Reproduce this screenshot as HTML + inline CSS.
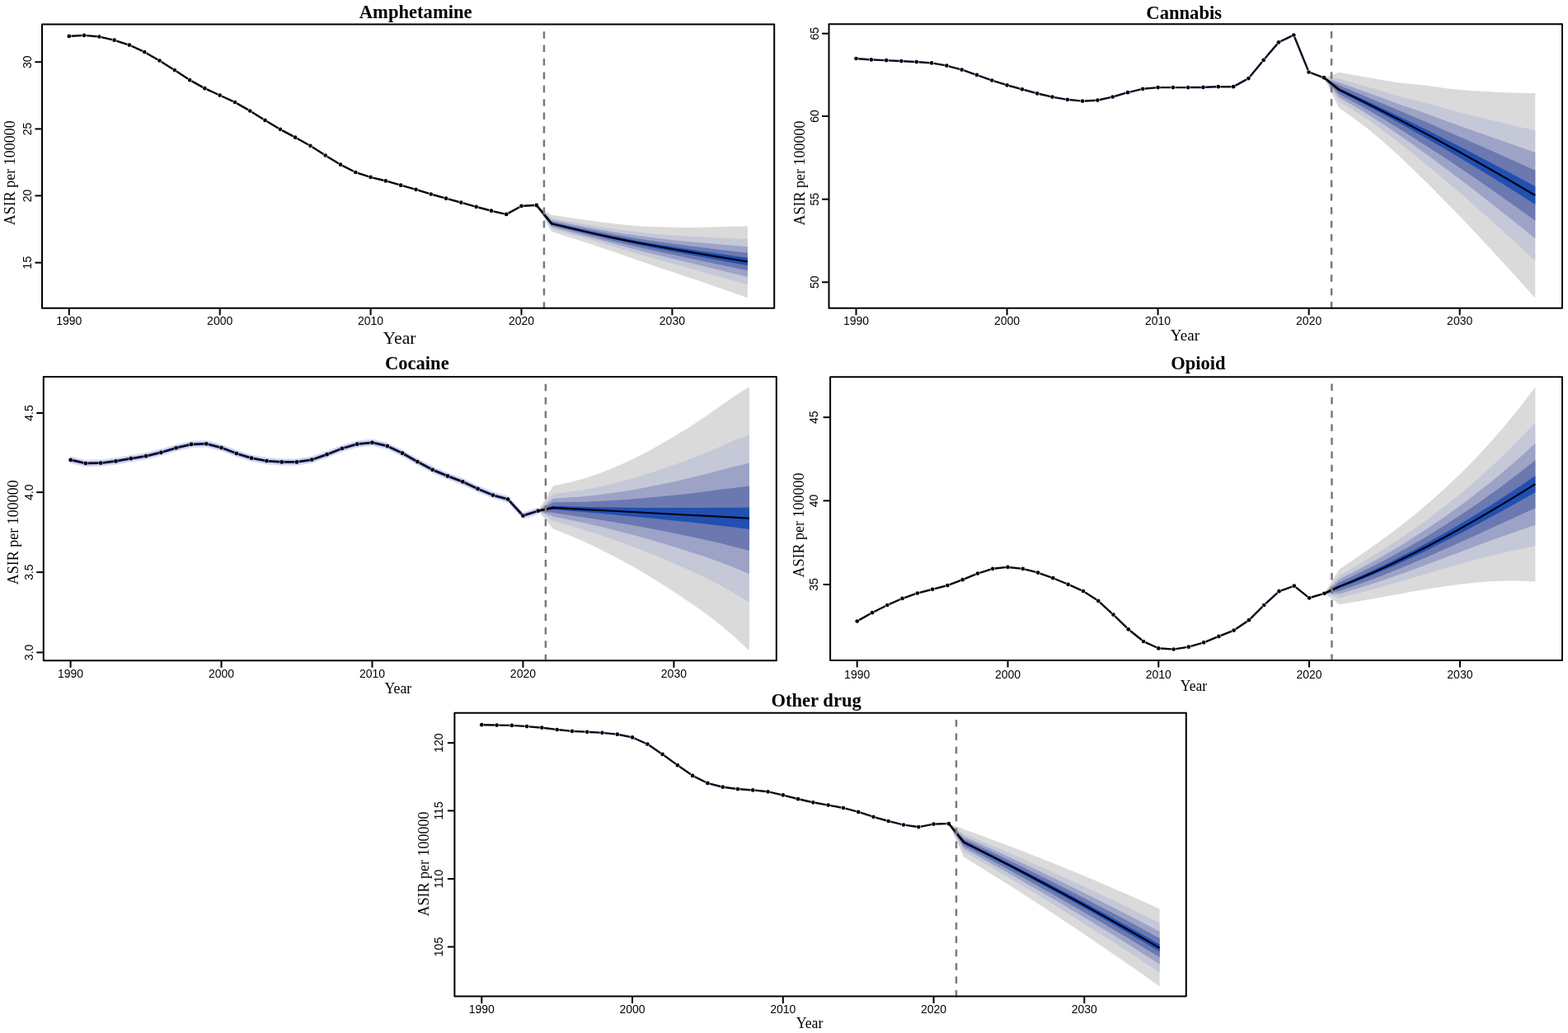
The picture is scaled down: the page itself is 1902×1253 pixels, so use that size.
<!DOCTYPE html>
<html><head><meta charset="utf-8"><title>ASIR projections</title>
<style>
html,body{margin:0;padding:0;background:#fff;}
svg{display:block;}
.tk{font-family:"Liberation Sans",Arial,sans-serif;font-size:14px;fill:#000;}
.ti{font-family:"Liberation Serif","Times New Roman",serif;font-weight:bold;fill:#000;}
.lb{font-family:"Liberation Serif","Times New Roman",serif;fill:#000;}
</style></head>
<body>
<svg width="1902" height="1253" viewBox="0 0 1902 1253">
<rect width="1902" height="1253" fill="#fff"/>
<polygon points="650.79,248.9 669.08,260.8 687.37,263.53 705.66,266.19 723.95,268.7 742.24,270.98 760.53,272.92 778.82,274.4 797.11,275.34 815.4,275.8 833.69,275.9 851.98,275.73 870.27,275.36 888.56,274.86 906.85,274.3 906.85,361.3 888.56,354.86 870.27,348.46 851.98,342.12 833.69,335.9 815.4,329.79 797.11,323.7 778.82,317.5 760.53,311.11 742.24,304.67 723.95,298.4 705.66,292.43 687.37,286.71 669.08,281.1" fill="#dadada"/>
<polygon points="650.79,248.9 669.08,264.6 687.37,267.94 705.66,271.2 723.95,274.32 742.24,277.22 760.53,279.82 778.82,282.06 797.11,283.9 815.4,285.38 833.69,286.59 851.98,287.62 870.27,288.5 888.56,289.29 906.85,290.03 906.85,345.28 888.56,340.09 870.27,334.91 851.98,329.78 833.69,324.69 815.4,319.67 797.11,314.61 778.82,309.43 760.53,304.07 742.24,298.61 723.95,293.18 705.66,287.87 687.37,282.65 669.08,277.49" fill="#c5c8d7"/>
<polygon points="650.79,248.9 669.08,266.83 687.37,270.53 705.66,274.16 723.95,277.63 742.24,280.89 760.53,283.89 778.82,286.58 797.11,288.94 815.4,291.02 833.69,292.89 851.98,294.62 870.27,296.24 888.56,297.79 906.85,299.3 906.85,335.84 888.56,331.38 870.27,326.94 851.98,322.5 833.69,318.09 815.4,313.7 797.11,309.25 778.82,304.68 760.53,299.93 742.24,295.04 723.95,290.11 705.66,285.18 687.37,280.26 669.08,275.36" fill="#9da3c7"/>
<polygon points="650.79,248.9 669.08,268.65 687.37,272.64 705.66,276.56 723.95,280.33 742.24,283.88 760.53,287.2 778.82,290.25 797.11,293.05 815.4,295.61 833.69,298.02 851.98,300.32 870.27,302.54 888.56,304.7 906.85,306.84 906.85,328.16 888.56,324.3 870.27,320.44 851.98,316.58 833.69,312.72 815.4,308.84 797.11,304.89 778.82,300.81 760.53,296.55 742.24,292.14 723.95,287.6 705.66,282.99 687.37,278.32 669.08,273.63" fill="#6c78b0"/>
<polygon points="650.79,248.9 669.08,270.11 687.37,274.33 705.66,278.48 723.95,282.48 742.24,286.28 760.53,289.85 778.82,293.19 797.11,296.33 815.4,299.29 833.69,302.12 851.98,304.88 870.27,307.57 888.56,310.23 906.85,312.87 906.85,322.01 888.56,318.63 870.27,315.25 851.98,311.85 833.69,308.42 815.4,304.96 797.11,301.41 778.82,297.72 760.53,293.86 742.24,289.81 723.95,285.6 705.66,281.24 687.37,276.76 669.08,272.24" fill="#2050b0"/>
<polyline points="650.79,248.9 669.08,271.2 687.37,275.6 705.66,279.92 723.95,284.1 742.24,288.07 760.53,291.83 778.82,295.4 797.11,298.79 815.4,302.04 833.69,305.2 851.98,308.3 870.27,311.35 888.56,314.38 906.85,317.4" fill="none" stroke="#02021a" stroke-width="2.2" stroke-linejoin="round"/>
<line x1="650.79" y1="248.9" x2="669.08" y2="271.2" stroke="#000" stroke-width="2.4" stroke-linecap="round"/>
<path d="M86.5 43.75L99.39 43.05M104.78 43.14L117.69 44.26M123.01 45.1L136.04 48.1M141.24 49.53L154.39 53.77M159.41 55.74L172.8 61.96M177.6 64.43L191.19 72.17M195.82 74.95L209.55 83.65M214.09 86.58L227.86 95.62M232.48 98.41L246.05 105.89M250.86 108.33L264.25 114.47M269.15 116.73L282.54 122.87M287.33 125.34L300.94 133.16M305.57 135.93L319.28 144.47M323.89 147.28L337.54 155.42M342.23 158.09L355.78 165.41M360.51 168.01L374.08 175.49M378.71 178.25L392.46 187.05M397.03 189.91L410.72 198.29M415.43 200.92L428.9 207.78M433.88 209.83L447.03 214.07M452.22 215.55L465.27 218.75M470.48 220.15L483.59 223.95M488.78 225.43L501.87 229.07M507.05 230.6L520.18 234.7M525.36 236.24L538.45 239.96M543.65 241.41L556.74 244.99M561.94 246.43L575.03 250.07M580.24 251.5L593.31 255M598.55 256.3L611.58 259.3M616.58 258.6L630.13 251.2M635.2 249.75L648.09 249.05" fill="none" stroke="#03030f" stroke-width="2.4"/>
<circle cx="83.8" cy="43.9" r="2.35"/>
<circle cx="102.09" cy="42.9" r="2.35"/>
<circle cx="120.38" cy="44.5" r="2.35"/>
<circle cx="138.67" cy="48.7" r="2.35"/>
<circle cx="156.96" cy="54.6" r="2.35"/>
<circle cx="175.25" cy="63.1" r="2.35"/>
<circle cx="193.54" cy="73.5" r="2.35"/>
<circle cx="211.83" cy="85.1" r="2.35"/>
<circle cx="230.12" cy="97.1" r="2.35"/>
<circle cx="248.41" cy="107.2" r="2.35"/>
<circle cx="266.7" cy="115.6" r="2.35"/>
<circle cx="284.99" cy="124" r="2.35"/>
<circle cx="303.28" cy="134.5" r="2.35"/>
<circle cx="321.57" cy="145.9" r="2.35"/>
<circle cx="339.86" cy="156.8" r="2.35"/>
<circle cx="358.15" cy="166.7" r="2.35"/>
<circle cx="376.44" cy="176.8" r="2.35"/>
<circle cx="394.73" cy="188.5" r="2.35"/>
<circle cx="413.02" cy="199.7" r="2.35"/>
<circle cx="431.31" cy="209" r="2.35"/>
<circle cx="449.6" cy="214.9" r="2.35"/>
<circle cx="467.89" cy="219.4" r="2.35"/>
<circle cx="486.18" cy="224.7" r="2.35"/>
<circle cx="504.47" cy="229.8" r="2.35"/>
<circle cx="522.76" cy="235.5" r="2.35"/>
<circle cx="541.05" cy="240.7" r="2.35"/>
<circle cx="559.34" cy="245.7" r="2.35"/>
<circle cx="577.63" cy="250.8" r="2.35"/>
<circle cx="595.92" cy="255.7" r="2.35"/>
<circle cx="614.21" cy="259.9" r="2.35"/>
<circle cx="632.5" cy="249.9" r="2.35"/>
<circle cx="650.79" cy="248.9" r="2.35"/>
<line x1="659.93" y1="374.7" x2="659.93" y2="29.6" stroke="#7a7a7a" stroke-width="2.5" stroke-dasharray="8.5 7.9"/>
<rect x="51" y="29.6" width="888.2" height="344.2" fill="none" stroke="#000" stroke-width="2" stroke-linejoin="round"/>
<line x1="83.8" y1="373.8" x2="83.8" y2="382.3" stroke="#000" stroke-width="2"/>
<text x="83.8" y="394.1" class="tk" text-anchor="middle">1990</text>
<line x1="266.7" y1="373.8" x2="266.7" y2="382.3" stroke="#000" stroke-width="2"/>
<text x="266.7" y="394.1" class="tk" text-anchor="middle">2000</text>
<line x1="449.6" y1="373.8" x2="449.6" y2="382.3" stroke="#000" stroke-width="2"/>
<text x="449.6" y="394.1" class="tk" text-anchor="middle">2010</text>
<line x1="632.5" y1="373.8" x2="632.5" y2="382.3" stroke="#000" stroke-width="2"/>
<text x="632.5" y="394.1" class="tk" text-anchor="middle">2020</text>
<line x1="815.4" y1="373.8" x2="815.4" y2="382.3" stroke="#000" stroke-width="2"/>
<text x="815.4" y="394.1" class="tk" text-anchor="middle">2030</text>
<line x1="42.5" y1="318.6" x2="51" y2="318.6" stroke="#000" stroke-width="2"/>
<text transform="translate(38.2,318.6) rotate(-90)" class="tk" text-anchor="middle">15</text>
<line x1="42.5" y1="237.4" x2="51" y2="237.4" stroke="#000" stroke-width="2"/>
<text transform="translate(38.2,237.4) rotate(-90)" class="tk" text-anchor="middle">20</text>
<line x1="42.5" y1="156.4" x2="51" y2="156.4" stroke="#000" stroke-width="2"/>
<text transform="translate(38.2,156.4) rotate(-90)" class="tk" text-anchor="middle">25</text>
<line x1="42.5" y1="75.2" x2="51" y2="75.2" stroke="#000" stroke-width="2"/>
<text transform="translate(38.2,75.2) rotate(-90)" class="tk" text-anchor="middle">30</text>
<text x="504.2" y="21.8" class="ti" style="font-size:22.6px" text-anchor="middle">Amphetamine</text>
<text transform="translate(484.5,416.8) scale(1,1)" class="lb" style="font-size:21.7px" text-anchor="middle">Year</text>
<text transform="translate(18.4,209.8) rotate(-90)" class="lb" style="font-size:18px" text-anchor="middle">ASIR per 100000</text>
<polygon points="1605.95,94.2 1624.26,87.7 1642.57,90.97 1660.87,94.16 1679.17,97.47 1697.48,100.4 1715.78,102.26 1734.09,104.19 1752.39,106.9 1770.7,109 1789.01,110.21 1807.31,111.27 1825.62,112.13 1843.92,112.69 1862.22,112.9 1862.22,361.6 1843.92,341.31 1825.62,321.12 1807.31,301.14 1789.01,281.47 1770.7,262.23 1752.39,243.44 1734.09,225.03 1715.78,207.01 1697.48,189.57 1679.17,172.96 1660.87,157.62 1642.57,143.85 1624.26,131" fill="#dadada"/>
<polygon points="1605.95,94.2 1624.26,95.39 1642.57,100.71 1660.87,106.04 1679.17,111.52 1697.48,116.8 1715.78,121.47 1734.09,126.23 1752.39,131.56 1770.7,136.55 1789.01,141.04 1807.31,145.49 1825.62,149.87 1843.92,154.13 1862.22,158.21 1862.22,316.14 1843.92,299.3 1825.62,282.58 1807.31,266.06 1789.01,249.79 1770.7,233.85 1752.39,218.26 1734.09,202.97 1715.78,187.98 1697.48,173.42 1679.17,159.45 1660.87,146.34 1642.57,134.29 1624.26,122.88" fill="#c5c8d7"/>
<polygon points="1605.95,94.2 1624.26,99.91 1642.57,106.45 1660.87,113.04 1679.17,119.79 1697.48,126.46 1715.78,132.78 1734.09,139.22 1752.39,146.08 1770.7,152.78 1789.01,159.2 1807.31,165.65 1825.62,172.1 1843.92,178.53 1862.22,184.9 1862.22,289.36 1843.92,274.55 1825.62,259.88 1807.31,245.39 1789.01,231.13 1770.7,217.14 1752.39,203.43 1734.09,189.97 1715.78,176.77 1697.48,163.91 1679.17,151.49 1660.87,139.7 1642.57,128.66 1624.26,118.1" fill="#9da3c7"/>
<polygon points="1605.95,94.2 1624.26,103.6 1642.57,111.12 1660.87,118.74 1679.17,126.52 1697.48,134.32 1715.78,141.99 1734.09,149.79 1752.39,157.9 1770.7,165.99 1789.01,173.98 1807.31,182.05 1825.62,190.2 1843.92,198.4 1862.22,206.63 1862.22,267.56 1843.92,254.41 1825.62,241.4 1807.31,228.57 1789.01,215.94 1770.7,203.53 1752.39,191.35 1734.09,179.39 1715.78,167.65 1697.48,156.17 1679.17,145.01 1660.87,134.29 1642.57,124.08 1624.26,114.2" fill="#6c78b0"/>
<polygon points="1605.95,94.2 1624.26,106.9 1642.57,115.31 1660.87,123.86 1679.17,132.56 1697.48,141.38 1715.78,150.25 1734.09,159.27 1752.39,168.51 1770.7,177.84 1789.01,187.24 1807.31,196.77 1825.62,206.43 1843.92,216.22 1862.22,226.12 1862.22,248 1843.92,236.34 1825.62,224.83 1807.31,213.48 1789.01,202.31 1770.7,191.32 1752.39,180.52 1734.09,169.9 1715.78,159.46 1697.48,149.22 1679.17,139.2 1660.87,129.44 1642.57,119.96 1624.26,110.71" fill="#2050b0"/>
<polyline points="1605.95,94.2 1624.26,108.75 1642.57,117.66 1660.87,126.72 1679.17,135.95 1697.48,145.33 1715.78,154.88 1734.09,164.58 1752.39,174.45 1770.7,184.48 1789.01,194.67 1807.31,205.02 1825.62,215.53 1843.92,226.21 1862.22,237.04" fill="none" stroke="#02021a" stroke-width="2.2" stroke-linejoin="round"/>
<line x1="1605.95" y1="94.2" x2="1624.26" y2="108.75" stroke="#000" stroke-width="2.4" stroke-linecap="round"/>
<path d="M1041.19 71.21L1054.11 72.19M1059.5 72.52L1072.41 73.08M1077.81 73.33L1090.72 73.97M1096.11 74.25L1109.02 74.95M1114.41 75.29L1127.33 76.21M1132.68 76.86L1145.67 79.14M1150.93 80.31L1164.03 83.89M1169.19 85.48L1182.39 90.02M1187.48 91.82L1200.71 96.58M1205.82 98.32L1218.98 102.48M1224.15 104.01L1237.25 107.59M1242.46 109.02L1255.56 112.68M1260.79 114L1273.83 117M1279.12 118.06L1292.11 120.34M1297.46 121.06L1310.39 122.34M1315.77 122.45L1328.68 121.75M1334.01 121.01L1347.05 118.09M1352.28 116.75L1365.4 112.95M1370.62 111.57L1383.67 108.43M1388.98 107.55L1401.91 106.35M1407.3 106.1L1420.2 106.1M1425.61 106.1L1438.51 106.1M1443.91 106.07L1456.82 105.93M1462.21 105.8L1475.12 105.3M1480.52 105.2L1493.42 105.2M1498.49 103.9L1512.07 96.4M1516.15 93.02L1531.02 74.98M1534.48 70.84L1549.29 53.36M1553.47 50.13L1566.91 43.67M1570.36 45L1586.63 85M1590.19 88.43L1603.42 93.27" fill="none" stroke="#0a0a24" stroke-width="2.4"/>
<circle cx="1038.5" cy="71" r="2.35"/>
<circle cx="1056.81" cy="72.4" r="2.35"/>
<circle cx="1075.11" cy="73.2" r="2.35"/>
<circle cx="1093.41" cy="74.1" r="2.35"/>
<circle cx="1111.72" cy="75.1" r="2.35"/>
<circle cx="1130.03" cy="76.4" r="2.35"/>
<circle cx="1148.33" cy="79.6" r="2.35"/>
<circle cx="1166.63" cy="84.6" r="2.35"/>
<circle cx="1184.94" cy="90.9" r="2.35"/>
<circle cx="1203.24" cy="97.5" r="2.35"/>
<circle cx="1221.55" cy="103.3" r="2.35"/>
<circle cx="1239.86" cy="108.3" r="2.35"/>
<circle cx="1258.16" cy="113.4" r="2.35"/>
<circle cx="1276.46" cy="117.6" r="2.35"/>
<circle cx="1294.77" cy="120.8" r="2.35"/>
<circle cx="1313.08" cy="122.6" r="2.35"/>
<circle cx="1331.38" cy="121.6" r="2.35"/>
<circle cx="1349.68" cy="117.5" r="2.35"/>
<circle cx="1367.99" cy="112.2" r="2.35"/>
<circle cx="1386.3" cy="107.8" r="2.35"/>
<circle cx="1404.6" cy="106.1" r="2.35"/>
<circle cx="1422.9" cy="106.1" r="2.35"/>
<circle cx="1441.21" cy="106.1" r="2.35"/>
<circle cx="1459.51" cy="105.9" r="2.35"/>
<circle cx="1477.82" cy="105.2" r="2.35"/>
<circle cx="1496.12" cy="105.2" r="2.35"/>
<circle cx="1514.43" cy="95.1" r="2.35"/>
<circle cx="1532.74" cy="72.9" r="2.35"/>
<circle cx="1551.04" cy="51.3" r="2.35"/>
<circle cx="1569.35" cy="42.5" r="2.35"/>
<circle cx="1587.65" cy="87.5" r="2.35"/>
<circle cx="1605.95" cy="94.2" r="2.35"/>
<line x1="1615.11" y1="374.6" x2="1615.11" y2="29.2" stroke="#7a7a7a" stroke-width="2.5" stroke-dasharray="8.5 7.9"/>
<rect x="1005.5" y="29.2" width="889.5" height="344.5" fill="none" stroke="#000" stroke-width="2" stroke-linejoin="round"/>
<line x1="1038.5" y1="373.7" x2="1038.5" y2="382.2" stroke="#000" stroke-width="2"/>
<text x="1038.5" y="394.3" class="tk" text-anchor="middle">1990</text>
<line x1="1221.55" y1="373.7" x2="1221.55" y2="382.2" stroke="#000" stroke-width="2"/>
<text x="1221.55" y="394.3" class="tk" text-anchor="middle">2000</text>
<line x1="1404.6" y1="373.7" x2="1404.6" y2="382.2" stroke="#000" stroke-width="2"/>
<text x="1404.6" y="394.3" class="tk" text-anchor="middle">2010</text>
<line x1="1587.65" y1="373.7" x2="1587.65" y2="382.2" stroke="#000" stroke-width="2"/>
<text x="1587.65" y="394.3" class="tk" text-anchor="middle">2020</text>
<line x1="1770.7" y1="373.7" x2="1770.7" y2="382.2" stroke="#000" stroke-width="2"/>
<text x="1770.7" y="394.3" class="tk" text-anchor="middle">2030</text>
<line x1="997" y1="342.3" x2="1005.5" y2="342.3" stroke="#000" stroke-width="2"/>
<text transform="translate(992.6,342.3) rotate(-90)" class="tk" text-anchor="middle">50</text>
<line x1="997" y1="241.7" x2="1005.5" y2="241.7" stroke="#000" stroke-width="2"/>
<text transform="translate(992.6,241.7) rotate(-90)" class="tk" text-anchor="middle">55</text>
<line x1="997" y1="140.9" x2="1005.5" y2="140.9" stroke="#000" stroke-width="2"/>
<text transform="translate(992.6,140.9) rotate(-90)" class="tk" text-anchor="middle">60</text>
<line x1="997" y1="40.7" x2="1005.5" y2="40.7" stroke="#000" stroke-width="2"/>
<text transform="translate(992.6,40.7) rotate(-90)" class="tk" text-anchor="middle">65</text>
<text x="1436.2" y="22.9" class="ti" style="font-size:22.6px" text-anchor="middle">Cannabis</text>
<text transform="translate(1437.4,412.7) scale(0.99,1)" class="lb" style="font-size:19.3px" text-anchor="middle">Year</text>
<text transform="translate(975.7,210) rotate(-90)" class="lb" style="font-size:18px" text-anchor="middle">ASIR per 100000</text>
<polygon points="652.75,619.7 671.04,589.2 689.34,585.38 707.63,580.78 725.93,574.81 744.22,567.57 762.52,559.32 780.81,550.15 799.11,540.16 817.4,529.54 835.7,518.39 853.99,506.42 872.29,493.51 890.58,480.71 908.88,468.9 908.88,789.5 890.58,772.31 872.29,756.77 853.99,742.82 835.7,729.96 817.4,717.74 799.11,705.89 780.81,694.65 762.52,684.29 744.22,674.57 725.93,665.25 707.63,656.58 689.34,648.79 671.04,641.5" fill="#dadada"/>
<polygon points="652.75,619.7 671.04,598.91 689.34,596.85 707.63,594.29 725.93,590.86 744.22,586.62 762.52,581.74 780.81,576.29 799.11,570.31 817.4,563.92 835.7,557.21 853.99,549.97 872.29,542.13 890.58,534.36 908.88,527.23 908.88,730.81 890.58,719.53 872.29,709.3 853.99,700.08 835.7,691.55 817.4,683.43 799.11,675.54 780.81,668.05 762.52,661.1 744.22,654.57 725.93,648.29 707.63,642.42 689.34,637.11 671.04,632.12" fill="#c5c8d7"/>
<polygon points="652.75,619.7 671.04,604.63 689.34,603.6 707.63,602.24 725.93,600.31 744.22,597.85 762.52,594.96 780.81,591.68 799.11,588.06 817.4,584.17 835.7,580.07 853.99,575.62 872.29,570.77 890.58,565.97 908.88,561.58 908.88,696.24 890.58,688.44 872.29,681.34 853.99,674.91 835.7,668.93 817.4,663.22 799.11,657.67 780.81,652.37 762.52,647.44 744.22,642.79 725.93,638.3 707.63,634.08 689.34,630.23 671.04,626.59" fill="#9da3c7"/>
<polygon points="652.75,619.7 671.04,609.28 689.34,609.1 707.63,608.72 725.93,608 744.22,606.98 762.52,605.71 780.81,604.21 799.11,602.51 817.4,600.66 835.7,598.68 853.99,596.49 872.29,594.08 890.58,591.69 908.88,589.55 908.88,668.1 890.58,663.13 872.29,658.58 853.99,654.41 835.7,650.51 817.4,646.77 799.11,643.12 780.81,639.61 762.52,636.33 744.22,633.2 725.93,630.16 707.63,627.29 689.34,624.63 671.04,622.1" fill="#6c78b0"/>
<polygon points="652.75,619.7 671.04,613.62 689.34,614.22 707.63,614.75 725.93,615.17 744.22,615.49 762.52,615.72 780.81,615.88 799.11,615.97 817.4,616.01 835.7,616.01 853.99,615.94 872.29,615.79 890.58,615.65 908.88,615.6 908.88,641.89 890.58,639.56 872.29,637.38 853.99,635.33 835.7,633.36 817.4,631.45 799.11,629.56 780.81,627.73 762.52,625.97 744.22,624.26 725.93,622.59 707.63,620.97 689.34,619.42 671.04,617.91" fill="#2050b0"/>
<polygon points="85.6,553.9 103.89,558 122.19,557.6 140.49,555.4 158.78,552.2 177.07,549.2 195.37,544.8 213.66,539.3 231.96,534.9 250.26,534.3 268.55,539.1 286.85,546 305.14,551.7 323.44,555.1 341.73,556.4 360.02,556.4 378.32,553.6 396.62,547.2 414.91,540 433.21,534.7 451.5,532.8 469.8,537.1 488.09,545.7 506.38,556.1 524.68,565.8 542.98,573.4 561.27,580.3 579.57,588.9 597.86,596.6 616.16,601.6 634.45,621.5 652.75,615.7 652.75,623.7 634.45,629.5 616.16,609.6 597.86,604.6 579.57,596.9 561.27,588.3 542.98,581.4 524.68,573.8 506.38,564.1 488.09,553.7 469.8,545.1 451.5,540.8 433.21,542.7 414.91,548 396.62,555.2 378.32,561.6 360.02,564.4 341.73,564.4 323.44,563.1 305.14,559.7 286.85,554 268.55,547.1 250.26,542.3 231.96,542.9 213.66,547.3 195.37,552.8 177.07,557.2 158.78,560.2 140.49,563.4 122.19,565.6 103.89,566 85.6,561.9" fill="#dcdff3" stroke="#dcdff3" stroke-width="0.6" stroke-linejoin="round"/>
<polygon points="85.6,555.42 103.89,559.52 122.19,559.12 140.49,556.92 158.78,553.72 177.07,550.72 195.37,546.32 213.66,540.82 231.96,536.42 250.26,535.82 268.55,540.62 286.85,547.52 305.14,553.22 323.44,556.62 341.73,557.92 360.02,557.92 378.32,555.12 396.62,548.72 414.91,541.52 433.21,536.22 451.5,534.32 469.8,538.62 488.09,547.22 506.38,557.62 524.68,567.32 542.98,574.92 561.27,581.82 579.57,590.42 597.86,598.12 616.16,603.12 634.45,623.02 652.75,617.22 652.75,622.18 634.45,627.98 616.16,608.08 597.86,603.08 579.57,595.38 561.27,586.78 542.98,579.88 524.68,572.28 506.38,562.58 488.09,552.18 469.8,543.58 451.5,539.28 433.21,541.18 414.91,546.48 396.62,553.68 378.32,560.08 360.02,562.88 341.73,562.88 323.44,561.58 305.14,558.18 286.85,552.48 268.55,545.58 250.26,540.78 231.96,541.38 213.66,545.78 195.37,551.28 177.07,555.68 158.78,558.68 140.49,561.88 122.19,564.08 103.89,564.48 85.6,560.38" fill="#c2c7ea" stroke="#c2c7ea" stroke-width="0.6" stroke-linejoin="round"/>
<polyline points="652.75,619.7 671.04,615.8 689.34,616.79 707.63,617.78 725.93,618.78 744.22,619.77 762.52,620.76 780.81,621.75 799.11,622.75 817.4,623.74 835.7,624.73 853.99,625.72 872.29,626.72 890.58,627.71 908.88,628.7" fill="none" stroke="#02021a" stroke-width="2.2" stroke-linejoin="round"/>
<line x1="652.75" y1="619.7" x2="671.04" y2="615.8" stroke="#000" stroke-width="2.4" stroke-linecap="round"/>
<path d="M88.23 558.49L101.26 561.41M106.59 561.94L119.49 561.66M124.87 561.28L137.8 559.72M143.14 558.93L156.12 556.67M161.44 555.76L174.41 553.64M179.7 552.57L192.74 549.43M197.96 548.02L211.08 544.08M216.29 542.67L229.33 539.53M234.66 538.81L247.56 538.39M252.87 538.99L265.94 542.41M271.08 544.05L284.32 549.05M289.42 550.8L302.56 554.9M307.79 556.19L320.78 558.61M326.13 559.29L339.04 560.21M344.43 560.4L357.32 560.4M362.69 559.99L375.65 558.01M380.87 556.71L394.07 552.09M399.13 550.21L412.4 544.99M417.5 543.25L430.61 539.45M435.89 538.42L448.81 537.08M454.13 537.42L467.17 540.48M472.24 542.25L485.65 548.55M490.44 551.03L504.04 558.77M508.77 561.36L522.29 568.54M527.17 570.84L540.48 576.36M545.5 578.35L558.74 583.35M563.71 585.45L577.12 591.75M582.05 593.95L595.37 599.55M600.46 601.31L613.55 604.89M617.98 607.59L632.62 623.51M637.02 624.68L650.17 620.52" fill="none" stroke="#0b0b36" stroke-width="2.8"/>
<circle cx="85.6" cy="557.9" r="2.35"/>
<circle cx="103.89" cy="562" r="2.35"/>
<circle cx="122.19" cy="561.6" r="2.35"/>
<circle cx="140.49" cy="559.4" r="2.35"/>
<circle cx="158.78" cy="556.2" r="2.35"/>
<circle cx="177.07" cy="553.2" r="2.35"/>
<circle cx="195.37" cy="548.8" r="2.35"/>
<circle cx="213.66" cy="543.3" r="2.35"/>
<circle cx="231.96" cy="538.9" r="2.35"/>
<circle cx="250.26" cy="538.3" r="2.35"/>
<circle cx="268.55" cy="543.1" r="2.35"/>
<circle cx="286.85" cy="550" r="2.35"/>
<circle cx="305.14" cy="555.7" r="2.35"/>
<circle cx="323.44" cy="559.1" r="2.35"/>
<circle cx="341.73" cy="560.4" r="2.35"/>
<circle cx="360.02" cy="560.4" r="2.35"/>
<circle cx="378.32" cy="557.6" r="2.35"/>
<circle cx="396.62" cy="551.2" r="2.35"/>
<circle cx="414.91" cy="544" r="2.35"/>
<circle cx="433.21" cy="538.7" r="2.35"/>
<circle cx="451.5" cy="536.8" r="2.35"/>
<circle cx="469.8" cy="541.1" r="2.35"/>
<circle cx="488.09" cy="549.7" r="2.35"/>
<circle cx="506.38" cy="560.1" r="2.35"/>
<circle cx="524.68" cy="569.8" r="2.35"/>
<circle cx="542.98" cy="577.4" r="2.35"/>
<circle cx="561.27" cy="584.3" r="2.35"/>
<circle cx="579.57" cy="592.9" r="2.35"/>
<circle cx="597.86" cy="600.6" r="2.35"/>
<circle cx="616.16" cy="605.6" r="2.35"/>
<circle cx="634.45" cy="625.5" r="2.35"/>
<circle cx="652.75" cy="619.7" r="2.35"/>
<line x1="661.89" y1="802.2" x2="661.89" y2="457.1" stroke="#7a7a7a" stroke-width="2.5" stroke-dasharray="8.5 7.9"/>
<rect x="52.8" y="457.1" width="889" height="344.2" fill="none" stroke="#000" stroke-width="2" stroke-linejoin="round"/>
<line x1="85.6" y1="801.3" x2="85.6" y2="809.8" stroke="#000" stroke-width="2"/>
<text x="85.6" y="822" class="tk" text-anchor="middle">1990</text>
<line x1="268.55" y1="801.3" x2="268.55" y2="809.8" stroke="#000" stroke-width="2"/>
<text x="268.55" y="822" class="tk" text-anchor="middle">2000</text>
<line x1="451.5" y1="801.3" x2="451.5" y2="809.8" stroke="#000" stroke-width="2"/>
<text x="451.5" y="822" class="tk" text-anchor="middle">2010</text>
<line x1="634.45" y1="801.3" x2="634.45" y2="809.8" stroke="#000" stroke-width="2"/>
<text x="634.45" y="822" class="tk" text-anchor="middle">2020</text>
<line x1="817.4" y1="801.3" x2="817.4" y2="809.8" stroke="#000" stroke-width="2"/>
<text x="817.4" y="822" class="tk" text-anchor="middle">2030</text>
<line x1="44.3" y1="791.4" x2="52.8" y2="791.4" stroke="#000" stroke-width="2"/>
<text transform="translate(39.7,791.4) rotate(-90)" class="tk" text-anchor="middle">3.0</text>
<line x1="44.3" y1="694.1" x2="52.8" y2="694.1" stroke="#000" stroke-width="2"/>
<text transform="translate(39.7,694.1) rotate(-90)" class="tk" text-anchor="middle">3.5</text>
<line x1="44.3" y1="597.1" x2="52.8" y2="597.1" stroke="#000" stroke-width="2"/>
<text transform="translate(39.7,597.1) rotate(-90)" class="tk" text-anchor="middle">4.0</text>
<line x1="44.3" y1="501" x2="52.8" y2="501" stroke="#000" stroke-width="2"/>
<text transform="translate(39.7,501) rotate(-90)" class="tk" text-anchor="middle">4.5</text>
<text x="505.8" y="448.4" class="ti" style="font-size:22.6px" text-anchor="middle">Cocaine</text>
<text transform="translate(482.9,840.9) scale(0.91,1)" class="lb" style="font-size:19.5px" text-anchor="middle">Year</text>
<text transform="translate(22.1,645.7) rotate(-90)" class="lb" style="font-size:18px" text-anchor="middle">ASIR per 100000</text>
<polygon points="1606.38,719.8 1624.66,690.38 1642.94,678.23 1661.22,665.62 1679.5,652.48 1697.78,638.69 1716.06,624.16 1734.34,608.8 1752.62,592.5 1770.9,575.16 1789.18,556.7 1807.46,537 1825.74,515.98 1844.02,493.53 1862.3,469.56 1862.3,705.59 1844.02,704.62 1825.74,704.55 1807.46,705.27 1789.18,706.68 1770.9,708.67 1752.62,711.15 1734.34,714 1716.06,717.12 1697.78,720.41 1679.5,723.76 1661.22,727.07 1642.94,730.24 1624.66,733.15" fill="#dadada"/>
<polygon points="1606.38,719.8 1624.66,698.08 1642.94,687.69 1661.22,676.85 1679.5,665.51 1697.78,653.61 1716.06,641.1 1734.34,627.93 1752.62,614.04 1770.9,599.37 1789.18,583.87 1807.46,567.48 1825.74,550.16 1844.02,531.84 1862.3,512.47 1862.3,662.36 1844.02,665.88 1825.74,669.9 1807.46,674.33 1789.18,679.11 1770.9,684.15 1752.62,689.38 1734.34,694.73 1716.06,700.13 1697.78,705.51 1679.5,710.78 1661.22,715.87 1642.94,720.71 1624.66,725.24" fill="#c5c8d7"/>
<polygon points="1606.38,719.8 1624.66,702.61 1642.94,693.26 1661.22,683.46 1679.5,673.19 1697.78,662.4 1716.06,651.08 1734.34,639.2 1752.62,626.72 1770.9,613.62 1789.18,599.87 1807.46,585.44 1825.74,570.29 1844.02,554.41 1862.3,537.75 1862.3,636.89 1844.02,643.07 1825.74,649.49 1807.46,656.11 1789.18,662.86 1770.9,669.7 1752.62,676.56 1734.34,683.39 1716.06,690.13 1697.78,696.73 1679.5,703.13 1661.22,709.27 1642.94,715.11 1624.66,720.57" fill="#9da3c7"/>
<polygon points="1606.38,719.8 1624.66,706.3 1642.94,697.8 1661.22,688.85 1679.5,679.43 1697.78,669.56 1716.06,659.21 1734.34,648.38 1752.62,637.05 1770.9,625.23 1789.18,612.9 1807.46,600.05 1825.74,586.68 1844.02,572.77 1862.3,558.33 1862.3,616.16 1844.02,624.49 1825.74,632.88 1807.46,641.28 1789.18,649.64 1770.9,657.94 1752.62,666.12 1734.34,674.15 1716.06,681.98 1697.78,689.58 1679.5,696.9 1661.22,703.9 1642.94,710.54 1624.66,716.78" fill="#6c78b0"/>
<polygon points="1606.38,719.8 1624.66,709.68 1642.94,701.95 1661.22,693.77 1679.5,685.15 1697.78,676.1 1716.06,666.64 1734.34,656.76 1752.62,646.49 1770.9,635.84 1789.18,624.81 1807.46,613.41 1825.74,601.66 1844.02,589.57 1862.3,577.14 1862.3,597.2 1844.02,607.51 1825.74,617.69 1807.46,627.72 1789.18,637.56 1770.9,647.19 1752.62,656.58 1734.34,665.7 1716.06,674.54 1697.78,683.05 1679.5,691.21 1661.22,698.99 1642.94,706.37 1624.66,713.31" fill="#2050b0"/>
<polyline points="1606.38,719.8 1624.66,711.47 1642.94,704.15 1661.22,696.38 1679.5,688.18 1697.78,679.58 1716.06,670.58 1734.34,661.22 1752.62,651.51 1770.9,641.48 1789.18,631.14 1807.46,620.51 1825.74,609.62 1844.02,598.49 1862.3,587.14" fill="none" stroke="#02021a" stroke-width="2.2" stroke-linejoin="round"/>
<line x1="1606.38" y1="719.8" x2="1624.66" y2="711.47" stroke="#000" stroke-width="2.4" stroke-linecap="round"/>
<path d="M1042.05 752.17L1055.63 744.53M1060.39 741.99L1073.85 735.21M1078.73 732.91L1092.07 726.99M1097.09 725.01L1110.27 720.39M1115.43 718.83L1128.49 715.47M1133.71 714.13L1146.77 710.77M1151.91 709.15L1165.13 704.15M1170.15 702.16L1183.45 696.64M1188.51 694.78L1201.65 690.62M1206.91 689.52L1219.81 688.18M1225.18 688.19L1238.1 689.61M1243.39 690.57L1256.45 693.93M1261.6 695.52L1274.8 700.28M1279.83 702.24L1293.13 707.76M1298.08 709.91L1311.44 715.89M1316.17 718.46L1329.91 727.34M1334.17 730.63L1348.47 743.77M1352.4 747.48L1366.8 761.42M1370.84 764.99L1384.92 776.31M1389.47 779.13L1402.85 785.27M1408 786.56L1420.88 787.34M1426.25 787.09L1439.19 785.11M1444.45 783.94L1457.55 780.06M1462.64 778.29L1475.92 772.91M1480.93 770.9L1494.19 765.6M1498.93 763.08L1512.75 753.72M1516.89 750.3L1531.35 735.9M1535.25 732.17L1549.55 719.03M1554.08 716.3L1567.28 711.6M1571.93 712.38L1585.99 723.62M1590.69 724.52L1603.79 720.58" fill="none" stroke="#05051a" stroke-width="2.4"/>
<circle cx="1039.7" cy="753.5" r="2.35"/>
<circle cx="1057.98" cy="743.2" r="2.35"/>
<circle cx="1076.26" cy="734" r="2.35"/>
<circle cx="1094.54" cy="725.9" r="2.35"/>
<circle cx="1112.82" cy="719.5" r="2.35"/>
<circle cx="1131.1" cy="714.8" r="2.35"/>
<circle cx="1149.38" cy="710.1" r="2.35"/>
<circle cx="1167.66" cy="703.2" r="2.35"/>
<circle cx="1185.94" cy="695.6" r="2.35"/>
<circle cx="1204.22" cy="689.8" r="2.35"/>
<circle cx="1222.5" cy="687.9" r="2.35"/>
<circle cx="1240.78" cy="689.9" r="2.35"/>
<circle cx="1259.06" cy="694.6" r="2.35"/>
<circle cx="1277.34" cy="701.2" r="2.35"/>
<circle cx="1295.62" cy="708.8" r="2.35"/>
<circle cx="1313.9" cy="717" r="2.35"/>
<circle cx="1332.18" cy="728.8" r="2.35"/>
<circle cx="1350.46" cy="745.6" r="2.35"/>
<circle cx="1368.74" cy="763.3" r="2.35"/>
<circle cx="1387.02" cy="778" r="2.35"/>
<circle cx="1405.3" cy="786.4" r="2.35"/>
<circle cx="1423.58" cy="787.5" r="2.35"/>
<circle cx="1441.86" cy="784.7" r="2.35"/>
<circle cx="1460.14" cy="779.3" r="2.35"/>
<circle cx="1478.42" cy="771.9" r="2.35"/>
<circle cx="1496.7" cy="764.6" r="2.35"/>
<circle cx="1514.98" cy="752.2" r="2.35"/>
<circle cx="1533.26" cy="734" r="2.35"/>
<circle cx="1551.54" cy="717.2" r="2.35"/>
<circle cx="1569.82" cy="710.7" r="2.35"/>
<circle cx="1588.1" cy="725.3" r="2.35"/>
<circle cx="1606.38" cy="719.8" r="2.35"/>
<line x1="1615.52" y1="801.9" x2="1615.52" y2="457.3" stroke="#7a7a7a" stroke-width="2.5" stroke-dasharray="8.5 7.9"/>
<rect x="1007.1" y="457.3" width="887.9" height="343.7" fill="none" stroke="#000" stroke-width="2" stroke-linejoin="round"/>
<line x1="1039.7" y1="801" x2="1039.7" y2="809.5" stroke="#000" stroke-width="2"/>
<text x="1039.7" y="823" class="tk" text-anchor="middle">1990</text>
<line x1="1222.5" y1="801" x2="1222.5" y2="809.5" stroke="#000" stroke-width="2"/>
<text x="1222.5" y="823" class="tk" text-anchor="middle">2000</text>
<line x1="1405.3" y1="801" x2="1405.3" y2="809.5" stroke="#000" stroke-width="2"/>
<text x="1405.3" y="823" class="tk" text-anchor="middle">2010</text>
<line x1="1588.1" y1="801" x2="1588.1" y2="809.5" stroke="#000" stroke-width="2"/>
<text x="1588.1" y="823" class="tk" text-anchor="middle">2020</text>
<line x1="1770.9" y1="801" x2="1770.9" y2="809.5" stroke="#000" stroke-width="2"/>
<text x="1770.9" y="823" class="tk" text-anchor="middle">2030</text>
<line x1="998.6" y1="709" x2="1007.1" y2="709" stroke="#000" stroke-width="2"/>
<text transform="translate(991.7,709) rotate(-90)" class="tk" text-anchor="middle">35</text>
<line x1="998.6" y1="607.4" x2="1007.1" y2="607.4" stroke="#000" stroke-width="2"/>
<text transform="translate(991.7,607.4) rotate(-90)" class="tk" text-anchor="middle">40</text>
<line x1="998.6" y1="506.2" x2="1007.1" y2="506.2" stroke="#000" stroke-width="2"/>
<text transform="translate(991.7,506.2) rotate(-90)" class="tk" text-anchor="middle">45</text>
<text x="1453.4" y="448.4" class="ti" style="font-size:22.5px" text-anchor="middle">Opioid</text>
<text transform="translate(1448,837.8) scale(0.9,1)" class="lb" style="font-size:19.5px" text-anchor="middle">Year</text>
<text transform="translate(975.1,636.9) rotate(-90)" class="lb" style="font-size:18px" text-anchor="middle">ASIR per 100000</text>
<polygon points="1150.82,999.1 1169.1,1005.73 1187.38,1012.38 1205.65,1019.16 1223.92,1026.07 1242.2,1033.12 1260.47,1040.29 1278.75,1047.6 1297.02,1055.04 1315.3,1062.61 1333.57,1070.32 1351.85,1078.15 1370.12,1086.12 1388.4,1094.22 1406.67,1102.45 1406.67,1196.56 1388.4,1183.61 1370.12,1170.8 1351.85,1158.14 1333.57,1145.63 1315.3,1133.26 1297.02,1121.04 1278.75,1108.97 1260.47,1097.04 1242.2,1085.26 1223.92,1073.62 1205.65,1062.13 1187.38,1050.79 1169.1,1039.59" fill="#dadada"/>
<polygon points="1150.82,999.1 1169.1,1011.49 1187.38,1019.05 1205.65,1026.74 1223.92,1034.55 1242.2,1042.5 1260.47,1050.57 1278.75,1058.77 1297.02,1067.1 1315.3,1075.55 1333.57,1084.14 1351.85,1092.85 1370.12,1101.69 1388.4,1110.66 1406.67,1119.76 1406.67,1179.51 1388.4,1167.42 1370.12,1155.46 1351.85,1143.64 1333.57,1131.96 1315.3,1120.42 1297.02,1109.01 1278.75,1097.74 1260.47,1086.6 1242.2,1075.61 1223.92,1064.75 1205.65,1054.03 1187.38,1043.45 1169.1,1033" fill="#c5c8d7"/>
<polygon points="1150.82,999.1 1169.1,1014.89 1187.38,1022.98 1205.65,1031.21 1223.92,1039.55 1242.2,1048.02 1260.47,1056.62 1278.75,1065.35 1297.02,1074.2 1315.3,1083.17 1333.57,1092.28 1351.85,1101.51 1370.12,1110.86 1388.4,1120.34 1406.67,1129.95 1406.67,1169.47 1388.4,1157.88 1370.12,1146.43 1351.85,1135.1 1333.57,1123.91 1315.3,1112.85 1297.02,1101.92 1278.75,1091.12 1260.47,1080.46 1242.2,1069.92 1223.92,1059.52 1205.65,1049.25 1187.38,1039.12 1169.1,1029.11" fill="#9da3c7"/>
<polygon points="1150.82,999.1 1169.1,1017.65 1187.38,1026.18 1205.65,1034.84 1223.92,1043.62 1242.2,1052.52 1260.47,1061.55 1278.75,1070.7 1297.02,1079.98 1315.3,1089.38 1333.57,1098.9 1351.85,1108.55 1370.12,1118.32 1388.4,1128.22 1406.67,1138.24 1406.67,1161.3 1388.4,1150.12 1370.12,1139.07 1351.85,1128.15 1333.57,1117.35 1315.3,1106.69 1297.02,1096.15 1278.75,1085.74 1260.47,1075.45 1242.2,1065.3 1223.92,1055.27 1205.65,1045.37 1187.38,1035.6 1169.1,1025.95" fill="#6c78b0"/>
<polygon points="1150.82,999.1 1169.1,1020.07 1187.38,1028.98 1205.65,1038.02 1223.92,1047.18 1242.2,1056.46 1260.47,1065.86 1278.75,1075.38 1297.02,1085.03 1315.3,1094.8 1333.57,1104.7 1351.85,1114.71 1370.12,1124.85 1388.4,1135.11 1406.67,1145.49 1406.67,1154.15 1388.4,1143.33 1370.12,1132.64 1351.85,1122.07 1333.57,1111.62 1315.3,1101.3 1297.02,1091.1 1278.75,1081.03 1260.47,1071.08 1242.2,1061.25 1223.92,1051.55 1205.65,1041.97 1187.38,1032.52 1169.1,1023.19" fill="#2050b0"/>
<polyline points="1150.82,999.1 1169.1,1021.52 1187.38,1030.66 1205.65,1039.93 1223.92,1049.31 1242.2,1058.82 1260.47,1068.45 1278.75,1078.2 1297.02,1088.07 1315.3,1098.06 1333.57,1108.18 1351.85,1118.42 1370.12,1128.77 1388.4,1139.25 1406.67,1149.86" fill="none" stroke="#02021a" stroke-width="2.2" stroke-linejoin="round"/>
<line x1="1150.82" y1="999.1" x2="1169.1" y2="1021.52" stroke="#000" stroke-width="2.4" stroke-linecap="round"/>
<path d="M587 879.26L599.88 879.54M605.27 879.64L618.15 879.86M623.54 880.08L636.43 880.92M641.81 881.34L654.71 882.46M660.08 883.04L673 884.66M678.36 885.28L691.26 886.62M696.65 887.03L709.53 887.67M714.92 887.95L727.8 888.65M733.19 889.08L746.09 890.42M751.42 891.24L764.4 893.86M769.51 895.51L782.86 901.49M787.56 904.11L801.36 913.39M805.78 916.49L819.69 926.61M824.09 929.74L837.93 939.36M842.57 942.09L856 948.71M861.04 950.59L874.09 954.01M879.38 955.05L892.3 956.75M897.67 957.29L910.56 958.21M915.94 958.68L928.84 960.02M934.16 960.89L947.17 963.81M952.41 965.09L965.46 968.51M970.71 969.79L983.72 972.71M989.01 973.78L1001.97 976.12M1007.28 977.09L1020.25 979.51M1025.51 980.7L1038.57 984.2M1043.74 985.73L1056.88 989.97M1062.05 991.54L1075.13 995.26M1080.35 996.65L1093.38 999.85M1098.67 1000.88L1111.6 1002.72M1116.93 1002.59L1129.9 1000.11M1135.25 999.53L1148.13 999.17" fill="none" stroke="#08081f" stroke-width="2.4"/>
<circle cx="584.3" cy="879.2" r="2.35"/>
<circle cx="602.57" cy="879.6" r="2.35"/>
<circle cx="620.85" cy="879.9" r="2.35"/>
<circle cx="639.12" cy="881.1" r="2.35"/>
<circle cx="657.4" cy="882.7" r="2.35"/>
<circle cx="675.67" cy="885" r="2.35"/>
<circle cx="693.95" cy="886.9" r="2.35"/>
<circle cx="712.22" cy="887.8" r="2.35"/>
<circle cx="730.5" cy="888.8" r="2.35"/>
<circle cx="748.77" cy="890.7" r="2.35"/>
<circle cx="767.05" cy="894.4" r="2.35"/>
<circle cx="785.32" cy="902.6" r="2.35"/>
<circle cx="803.6" cy="914.9" r="2.35"/>
<circle cx="821.88" cy="928.2" r="2.35"/>
<circle cx="840.15" cy="940.9" r="2.35"/>
<circle cx="858.42" cy="949.9" r="2.35"/>
<circle cx="876.7" cy="954.7" r="2.35"/>
<circle cx="894.97" cy="957.1" r="2.35"/>
<circle cx="913.25" cy="958.4" r="2.35"/>
<circle cx="931.52" cy="960.3" r="2.35"/>
<circle cx="949.8" cy="964.4" r="2.35"/>
<circle cx="968.07" cy="969.2" r="2.35"/>
<circle cx="986.35" cy="973.3" r="2.35"/>
<circle cx="1004.62" cy="976.6" r="2.35"/>
<circle cx="1022.9" cy="980" r="2.35"/>
<circle cx="1041.17" cy="984.9" r="2.35"/>
<circle cx="1059.45" cy="990.8" r="2.35"/>
<circle cx="1077.72" cy="996" r="2.35"/>
<circle cx="1096" cy="1000.5" r="2.35"/>
<circle cx="1114.27" cy="1003.1" r="2.35"/>
<circle cx="1132.55" cy="999.6" r="2.35"/>
<circle cx="1150.82" cy="999.1" r="2.35"/>
<line x1="1159.96" y1="1209.5" x2="1159.96" y2="864.8" stroke="#7a7a7a" stroke-width="2.5" stroke-dasharray="8.5 7.9"/>
<rect x="551.4" y="864.8" width="887.4" height="343.8" fill="none" stroke="#000" stroke-width="2" stroke-linejoin="round"/>
<line x1="584.3" y1="1208.6" x2="584.3" y2="1217.1" stroke="#000" stroke-width="2"/>
<text x="584.3" y="1229.2" class="tk" text-anchor="middle">1990</text>
<line x1="767.05" y1="1208.6" x2="767.05" y2="1217.1" stroke="#000" stroke-width="2"/>
<text x="767.05" y="1229.2" class="tk" text-anchor="middle">2000</text>
<line x1="949.8" y1="1208.6" x2="949.8" y2="1217.1" stroke="#000" stroke-width="2"/>
<text x="949.8" y="1229.2" class="tk" text-anchor="middle">2010</text>
<line x1="1132.55" y1="1208.6" x2="1132.55" y2="1217.1" stroke="#000" stroke-width="2"/>
<text x="1132.55" y="1229.2" class="tk" text-anchor="middle">2020</text>
<line x1="1315.3" y1="1208.6" x2="1315.3" y2="1217.1" stroke="#000" stroke-width="2"/>
<text x="1315.3" y="1229.2" class="tk" text-anchor="middle">2030</text>
<line x1="542.9" y1="1148.5" x2="551.4" y2="1148.5" stroke="#000" stroke-width="2"/>
<text transform="translate(537.4,1148.5) rotate(-90)" class="tk" text-anchor="middle">105</text>
<line x1="542.9" y1="1066" x2="551.4" y2="1066" stroke="#000" stroke-width="2"/>
<text transform="translate(537.4,1066) rotate(-90)" class="tk" text-anchor="middle">110</text>
<line x1="542.9" y1="983.4" x2="551.4" y2="983.4" stroke="#000" stroke-width="2"/>
<text transform="translate(537.4,983.4) rotate(-90)" class="tk" text-anchor="middle">115</text>
<line x1="542.9" y1="901.1" x2="551.4" y2="901.1" stroke="#000" stroke-width="2"/>
<text transform="translate(537.4,901.1) rotate(-90)" class="tk" text-anchor="middle">120</text>
<text x="990.1" y="856.7" class="ti" style="font-size:22.6px" text-anchor="middle">Other drug</text>
<text transform="translate(982,1246.9) scale(0.92,1)" class="lb" style="font-size:19.3px" text-anchor="middle">Year</text>
<text transform="translate(519.5,1048) rotate(-90)" class="lb" style="font-size:18px" text-anchor="middle">ASIR per 100000</text>
</svg>
</body></html>
